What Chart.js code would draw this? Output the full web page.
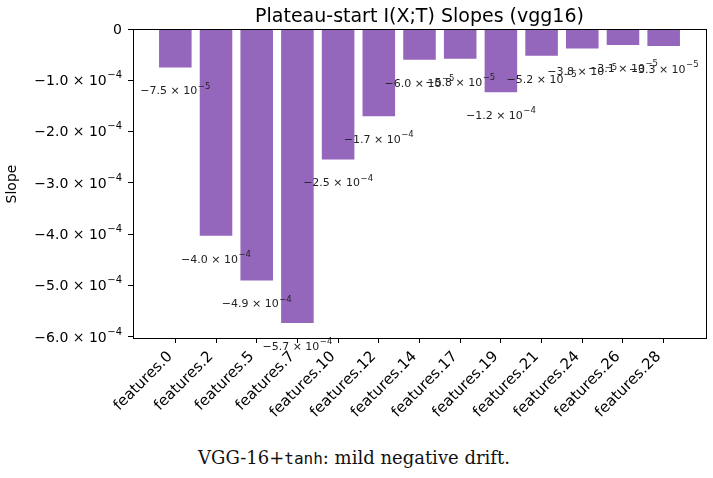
<!DOCTYPE html>
<html>
<head>
<meta charset="utf-8">
<script src="https://cdn.jsdelivr.net/npm/chart.js@4.4.0/dist/chart.umd.min.js"></script>
<style>
body{margin:0;background:#fff;}
#wrap{position:relative;width:713px;height:478px;}
#caption{position:absolute;top:447px;left:354px;transform:translateX(-50%);white-space:nowrap;font-family:"DejaVu Serif",serif;font-size:18px;color:#111;}
#caption code{font-family:"DejaVu Sans Mono",monospace;font-size:16px;}
</style>
</head>
<body>
<div id="wrap">
<canvas id="slopeChart" width="713" height="440"></canvas>
<div id="caption">VGG-16+<code>tanh</code>: mild negative drift.</div>
</div>
<script>
const layers = ['features.0','features.2','features.5','features.7','features.10','features.12','features.14','features.17','features.19','features.21','features.24','features.26','features.28'];
const slopes = [-7.5e-5, -4.03e-4, -4.9e-4, -5.73e-4, -2.54e-4, -1.70e-4, -6.0e-5, -5.8e-5, -1.23e-4, -5.2e-5, -3.8e-5, -3.1e-5, -3.3e-5];
const yTicks = [0, -1e-4, -2e-4, -3e-4, -4e-4, -5e-4, -6e-4];

// split a value into "−m.m × 10" and its exponent
function sciParts(v) {
	if (Math.abs(v) < 1e-12) return ['0', ''];
	const e = Math.floor(Math.log10(Math.abs(v)));
	const m = Math.abs(v) / Math.pow(10, e);
	return [(v < 0 ? '−' : '') + m.toFixed(1) + ' × 10', '−' + Math.abs(e)];
}

// draws base + raised exponent, align 'center' or 'right' at x, base middle at y
function drawSci(ctx, v, x, y, size, supSize, rise, align) {
	const [base, ex] = sciParts(v);
	ctx.font = size + 'px "DejaVu Sans"';
	const bw = ctx.measureText(base).width;
	ctx.font = supSize + 'px "DejaVu Sans"';
	const ew = ex ? ctx.measureText(ex).width + 0.5 : 0;
	const w = bw + ew;
	const x0 = align === 'center' ? x - w / 2 : x - w;
	ctx.textAlign = 'left';
	ctx.textBaseline = 'middle';
	ctx.font = size + 'px "DejaVu Sans"';
	ctx.fillText(base, x0, y);
	if (ex) {
		ctx.font = supSize + 'px "DejaVu Sans"';
		ctx.fillText(ex, x0 + bw + 0.5, y - rise);
	}
}

const decor = {
	id: 'decor',
	afterDatasetsDraw(chart) {
		const ctx = chart.ctx;
		const meta = chart.getDatasetMeta(0);
		ctx.save();
		ctx.fillStyle = '#222';
		meta.data.forEach((bar, i) => {
			drawSci(ctx, slopes[i], bar.x, bar.y + 24, 11, 8.5, 5, 'center');
		});
		ctx.restore();
	},
	afterDraw(chart) {
		const ctx = chart.ctx;
		const a = chart.chartArea;
		const ys = chart.scales.y;
		ctx.save();
		ctx.strokeStyle = '#000';
		ctx.lineWidth = 1;
		ctx.strokeRect(Math.round(a.left) + 0.5, Math.round(a.top) + 0.5, Math.round(a.right - a.left), Math.round(a.bottom - a.top));
		ctx.fillStyle = '#000';
		yTicks.forEach(v => {
			drawSci(ctx, v, a.left - 11, ys.getPixelForValue(v) + 1, 14, 10, 6, 'right');
		});
		ctx.font = '19px "DejaVu Sans"';
		ctx.textAlign = 'center';
		ctx.textBaseline = 'alphabetic';
		ctx.fillText('Plateau-start I(X;T) Slopes (vgg16)', (a.left + a.right) / 2, 22);
		ctx.translate(12, 184);
		ctx.rotate(-Math.PI / 2);
		ctx.font = '14px "DejaVu Sans"';
		ctx.textBaseline = 'middle';
		ctx.fillText('Slope', 0, 0);
		ctx.restore();
	}
};

const ctx = document.getElementById('slopeChart').getContext('2d');
const slopeChart = new Chart(ctx, {
	type: 'bar',
	data: {
		datasets: [{
			data: slopes.map((v, i) => ({x: i, y: v})),
			backgroundColor: '#9467bd',
			borderWidth: 0,
			barPercentage: 0.8,
			categoryPercentage: 1.0
		}]
	},
	options: {
		responsive: false,
		animation: false,
		layout: {padding: {top: 29, right: 7, left: 0, bottom: 0}},
		plugins: {legend: {display: false}, tooltip: {enabled: false}},
		scales: {
			x: {
				type: 'linear',
				offset: false,
				min: -1.04,
				max: 13.04,
				afterBuildTicks: (scale) => { scale.ticks = layers.map((_, i) => ({value: i})); },
				afterFit: (scale) => { scale.height = 102; },
				grid: {offset: false, drawOnChartArea: false, drawTicks: true, tickLength: 5, color: '#000'},
				border: {display: false},
				ticks: {
					autoSkip: false,
					minRotation: 45,
					maxRotation: 45,
					padding: 5,
					labelOffset: -5,
					color: '#000',
					font: {family: 'DejaVu Sans', size: 15},
					callback: (value) => layers[value]
				}
			},
			y: {
				min: -6.02e-4,
				max: 0,
				afterBuildTicks: (scale) => { scale.ticks = yTicks.map(v => ({value: v})); },
				afterFit: (scale) => { scale.width = 133; },
				grid: {drawOnChartArea: false, drawTicks: true, tickLength: 5, color: '#000'},
				border: {display: false},
				ticks: {
					callback: () => ''
				}
			}
		}
	},
	plugins: [decor]
});
</script>
</body>
</html>
